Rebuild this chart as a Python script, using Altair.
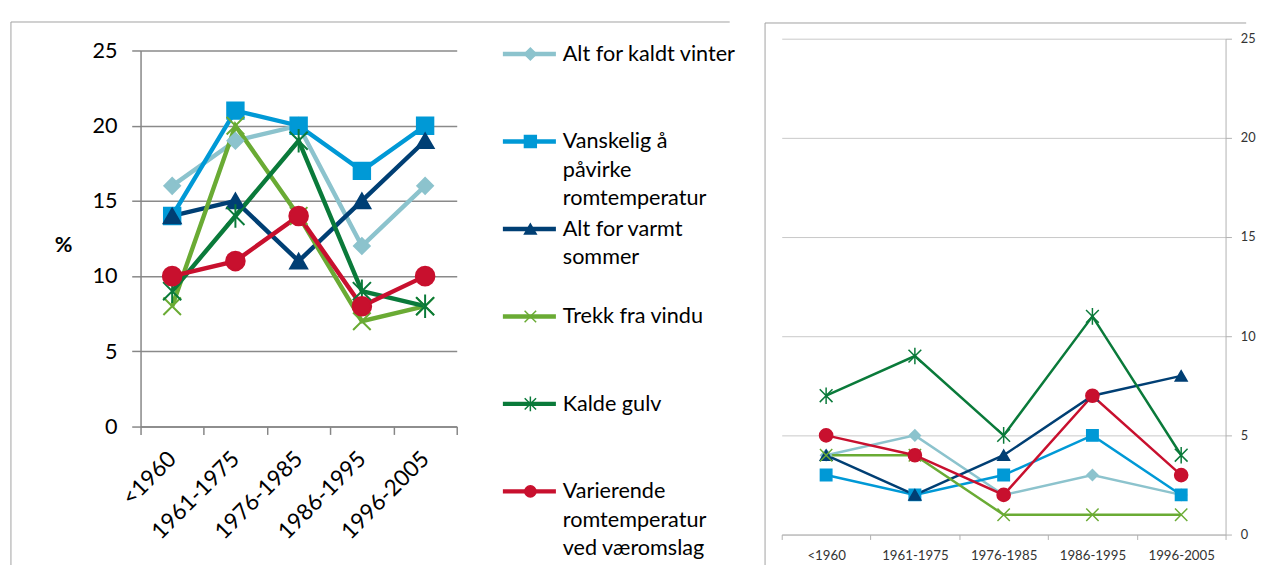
import altair as alt
import pandas as pd

periods = ["<1960", "1961-1975", "1976-1985", "1986-1995", "1996-2005"]
series = [
    "Alt for kaldt vinter",
    "Vanskelig å påvirke romtemperatur",
    "Alt for varmt sommer",
    "Trekk fra vindu",
    "Kalde gulv",
    "Varierende romtemperatur ved væromslag",
]
legend_text = [
    "Alt for kaldt vinter",
    "Vanskelig å\npåvirke\nromtemperatur",
    "Alt for varmt\nsommer",
    "Trekk fra vindu",
    "Kalde gulv",
    "Varierende\nromtemperatur\nved væromslag",
]
colors = ["#8cc3cd", "#0099d6", "#003f74", "#6aab34", "#0a7a3a", "#c8102e"]
X_PATH = "M-1,-1L1,1M-1,1L1,-1"
STAR_PATH = "M-1,-1L1,1M-1,1L1,-1M0,-1.3L0,1.3"
shapes = ["diamond", "square", "triangle-up", X_PATH, STAR_PATH, "circle"]

# left chart values (%)
left_kaldt = [16, 19, 20, 12, 16]
left_vanskelig = [14, 21, 20, 17, 20]
left_varmt = [14, 15, 11, 15, 19]
left_trekk = [8, 20, 14, 7, 8]
left_gulv = [9, 14, 19, 9, 8]
left_varierende = [10, 11, 14, 8, 10]

# right chart values
right_kaldt = [4, 5, 2, 3, 2]
right_vanskelig = [3, 2, 3, 5, 2]
right_varmt = [4, 2, 4, 7, 8]
right_trekk = [4, 4, 1, 1, 1]
right_gulv = [7, 9, 5, 11, 4]
right_varierende = [5, 4, 2, 7, 3]

y_ticks = [0, 5, 10, 15, 20, 25]

left_sizes = [260, 360, 440, 280, 280, 380]
right_sizes = [125, 180, 190, 150, 150, 160]
legend_sizes = [150, 130, 200, 160, 160, 160]


def long_df(cols):
    rows = []
    for s, vals in zip(series, cols):
        for i, (p, v) in enumerate(zip(periods, vals)):
            rows.append({"series": s, "period": p, "idx": i, "value": v})
    return pd.DataFrame(rows)


left_df = long_df([left_kaldt, left_vanskelig, left_varmt, left_trekk, left_gulv, left_varierende])
right_df = long_df([right_kaldt, right_vanskelig, right_varmt, right_trekk, right_gulv, right_varierende])
legend_df = pd.DataFrame({"series": series, "label": legend_text})

FONT = "Lato"
color_scale = alt.Scale(domain=series, range=colors)
shape_scale = alt.Scale(domain=series, range=shapes)

LEFT_H = 395  # plot height incl. 12px headroom above the 25 line
LEFT_TOP = 12

# ---------------- left chart ----------------
xL = alt.X(
    "period:N",
    sort=periods,
    bandPosition=0.5,
    scale=alt.Scale(type="band", domain=periods, paddingInner=0, paddingOuter=0),
    axis=alt.Axis(
        title=None, labelAngle=-45, labelAlign="right", labelBaseline="middle",
        labelFont=FONT, labelFontSize=23, labelColor="#000000", labelPadding=21,
        tickBand="extent", tickSize=8, tickColor="#868686", tickWidth=1.5,
        domainColor="#868686", domainWidth=1.5, grid=False,
    ),
)
yL = alt.Y(
    "value:Q",
    scale=alt.Scale(domain=[0, 25], nice=False, range=[LEFT_H, LEFT_TOP]),
    axis=alt.Axis(
        values=y_ticks, title="%", titleAngle=0, titleX=-79, titleY=210,
        titleAlign="center", titleBaseline="middle", titleFont=FONT,
        titleFontSize=22, titleFontWeight="bold", titleColor="#000000",
        labelFont=FONT, labelFontSize=22, labelColor="#000000", labelPadding=15,
        tickSize=9, tickColor="#868686", tickWidth=1.5,
        domainColor="#868686", domainWidth=1.5,
        grid=True, gridColor="#8a8a8a", gridWidth=1.5,
    ),
)

left_lines = alt.Chart(left_df).mark_line(strokeWidth=4.5).encode(
    x=xL, y=yL,
    color=alt.Color("series:N", scale=color_scale, legend=None),
    order=alt.Order("idx:Q"),
)
left_points = alt.Chart(left_df).mark_point(opacity=1, strokeWidth=2).encode(
    x=xL, y=yL,
    fill=alt.Fill("series:N", scale=color_scale, legend=None),
    stroke=alt.Stroke("series:N", scale=color_scale, legend=None),
    shape=alt.Shape("series:N", scale=shape_scale, legend=None),
    size=alt.Size("series:N", scale=alt.Scale(domain=series, range=left_sizes), legend=None),
)

frame_df = pd.DataFrame({"k": [0]})
left_frame_top = alt.Chart(frame_df).mark_rule(color="#a0a0a0", strokeWidth=1).encode(
    x=alt.value(-132), x2=alt.value(600), y=alt.value(-17)
)
left_frame_side = alt.Chart(frame_df).mark_rule(color="#a0a0a0", strokeWidth=1).encode(
    x=alt.value(-132), y=alt.value(-17), y2=alt.value(545)
)

yLeg = alt.Y(
    "series:N", sort=series,
    scale=alt.Scale(type="point", domain=series, range=[15.6, 461], padding=0),
    axis=None,
)
leg_rule = alt.Chart(legend_df).mark_rule(strokeWidth=4.5).encode(
    x=alt.value(369), x2=alt.value(423), y=yLeg,
    color=alt.Color("series:N", scale=color_scale, legend=None),
)
leg_pts = alt.Chart(legend_df).mark_point(opacity=1, strokeWidth=1.5).encode(
    x=alt.value(397), y=yLeg,
    fill=alt.Fill("series:N", scale=color_scale, legend=None),
    stroke=alt.Stroke("series:N", scale=color_scale, legend=None),
    shape=alt.Shape("series:N", scale=shape_scale, legend=None),
    size=alt.Size("series:N", scale=alt.Scale(domain=series, range=legend_sizes), legend=None),
)
leg_txt = alt.Chart(legend_df).mark_text(
    align="left", baseline="middle", font=FONT, fontSize=22, color="#000000",
    lineBreak="\n", lineHeight=28.8, limit=178, ellipsis="\u200b",
).encode(x=alt.value(430), y=yLeg, text="label:N")

left = alt.layer(
    alt.layer(left_frame_top, left_frame_side, left_lines, left_points),
    alt.layer(leg_rule, leg_pts, leg_txt),
).resolve_scale(y="independent", size="independent").properties(width=322, height=LEFT_H)

# ---------------- right chart ----------------
xR = alt.X(
    "period:N",
    sort=periods,
    bandPosition=0.5,
    scale=alt.Scale(type="band", domain=periods, paddingInner=0, paddingOuter=0),
    axis=alt.Axis(
        title=None, labelAngle=0, labelFont=FONT, labelFontSize=13.5, labelColor="#333333",
        labelPadding=9, tickBand="extent", tickSize=5, tickColor="#b0b0b0",
        domainColor="#b0b0b0", grid=False,
    ),
)
yR = alt.Y(
    "value:Q",
    scale=alt.Scale(domain=[0, 25], nice=False),
    axis=alt.Axis(
        orient="right", values=y_ticks, title=None,
        labelFont=FONT, labelFontSize=13, labelColor="#333333", labelPadding=9,
        tickSize=6, tickColor="#b0b0b0", domainColor="#b0b0b0",
        grid=True, gridColor="#c8c8c8", gridWidth=1,
    ),
)
right_lines = alt.Chart(right_df).mark_line(strokeWidth=2.5).encode(
    x=xR, y=yR,
    color=alt.Color("series:N", scale=color_scale, legend=None),
    order=alt.Order("idx:Q"),
)
right_points = alt.Chart(right_df).mark_point(opacity=1, strokeWidth=1.5).encode(
    x=xR, y=yR,
    fill=alt.Fill("series:N", scale=color_scale, legend=None),
    stroke=alt.Stroke("series:N", scale=color_scale, legend=None),
    shape=alt.Shape("series:N", scale=shape_scale, legend=None),
    size=alt.Size("series:N", scale=alt.Scale(domain=series, range=right_sizes), legend=None),
)
right_frame_top = alt.Chart(frame_df).mark_rule(color="#a0a0a0", strokeWidth=1).encode(
    x=alt.value(-17), x2=alt.value(473), y=alt.value(-16)
)
right_frame_side = alt.Chart(frame_df).mark_rule(color="#a0a0a0", strokeWidth=1).encode(
    x=alt.value(-17), y=alt.value(-16), y2=alt.value(540)
)
right = alt.layer(right_frame_top, right_frame_side, right_lines, right_points).properties(
    width=452, height=505
)

chart = alt.hconcat(left, right, spacing=28).properties(
    padding={"left": 2, "top": 8, "right": 0, "bottom": 0}
).configure_view(stroke=None)

chart.save("out.html", embed_options={"renderer": "svg", "actions": False})
